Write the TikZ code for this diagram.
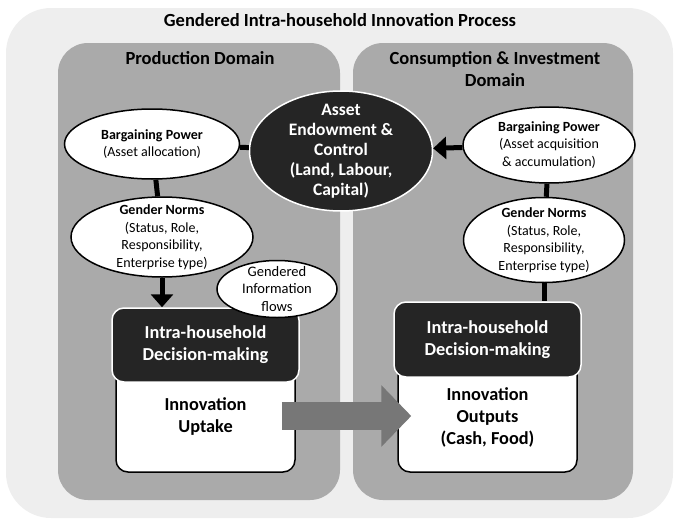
\documentclass[tikz,border=0pt]{standalone}
\usepackage{fontspec}
\setmainfont{Carlito}
\usetikzlibrary{shapes.geometric,arrows.meta}
\definecolor{outergray}{HTML}{EEEEEE}
\definecolor{panelgray}{HTML}{AAAAAA}
\definecolor{darkfill}{HTML}{252525}
\definecolor{blockgray}{HTML}{777777}
\begin{document}
\begin{tikzpicture}[
    x=1pt, y=-1pt,
    panel/.style={rectangle, rounded corners=30pt, fill=panelgray, inner sep=0pt},
    heading/.style={font=\bfseries\fontsize{18.5}{22}\selectfont, align=center},
    oval/.style={ellipse, draw, fill=white, line width=1.5pt, inner xsep=0pt, inner ysep=-9pt, align=center, font=\fontsize{14}{17.5}\selectfont},
    darkoval/.style={oval, fill=darkfill, draw=white, text=white, font=\bfseries\fontsize{17.5}{20}\selectfont},
    decision/.style={rectangle, rounded corners=12pt, fill=darkfill, draw=white, line width=1.5pt, text=white, align=center, font=\bfseries\fontsize{18.3}{22}\selectfont},
    result/.style={rectangle, rounded corners=12pt, fill=white, draw, line width=1.5pt, align=center, font=\bfseries\fontsize{18.3}{22}\selectfont},
    link/.style={line width=5pt},
    arrow/.style={link, -{Triangle[length=13pt, width=22pt]}}
]
\useasboundingbox (0,0) rectangle (680,522);

% Background and domains
\node[rectangle, rounded corners=45pt, fill=outergray, minimum width=667pt, minimum height=510pt] (process) at (339.5,263) {};
\node[font=\bfseries\fontsize{18.5}{22}\selectfont] (title) at (340,20) {Gendered Intra-household Innovation Process};
\node[panel, minimum width=282pt, minimum height=457pt] (production) at (199,271.5) {};
\node[panel, minimum width=280pt, minimum height=457pt] (consumption) at (493,271.5) {};
\node[heading] (prodtitle) at (200,58) {Production Domain};
\node[heading] (constitle) at (495,69) {Consumption \& Investment\\Domain};

% Assets
\node[darkoval, minimum width=183pt, minimum height=120pt] (asset) at (341,151) {Asset\\Endowment \&\\Control\\(Land, Labour,\\Capital)};

% Production side
\node[oval, minimum width=175pt, minimum height=70pt] (lbargain) at (152,144) {\textbf{Bargaining Power}\\(Asset allocation)};
\node[oval, minimum width=182pt, minimum height=80pt] (lnorms) at (162,237) {\textbf{Gender Norms}\\(Status, Role,\\Responsibility,\\Enterprise type)};
\node[result, minimum width=179pt, minimum height=112pt] (uptake) at (205.5,416) {Innovation\\Uptake};
\node[decision, minimum width=187pt, minimum height=74pt] (ldecision) at (205.5,345) {Intra-household\\Decision-making};
\node[oval, minimum width=120pt, minimum height=57pt, font=\fontsize{14.5}{17.5}\selectfont] (infoflows) at (277,289) {Gendered\\Information\\flows};

% Consumption side
\node[oval, minimum width=172pt, minimum height=76pt] (rbargain) at (549,145) {\textbf{Bargaining Power}\\(Asset acquisition\\\& accumulation)};
\node[oval, minimum width=161pt, minimum height=85pt] (rnorms) at (544,240) {\textbf{Gender Norms}\\(Status, Role,\\Responsibility,\\Enterprise type)};
\node[result, minimum width=179pt, minimum height=110pt] (outputs) at (487.5,417) {Innovation\\Outputs\\(Cash, Food)};
\node[decision, minimum width=187pt, minimum height=75pt] (rdecision) at (487.5,339.5) {Intra-household\\Decision-making};

% Connections
\draw[link] (lbargain) -- (asset);
\draw[link] (lbargain) -- (lnorms);
\draw[arrow] (lnorms.south) -- (lnorms.south |- ldecision.north);
\draw[arrow] (rbargain) -- (asset);
\draw[link] (rbargain) -- (rnorms);
\draw[link] (rnorms.south) -- (rnorms.south |- rdecision.north);

% Uptake to outputs
\draw[line width=28pt, blockgray, shorten <=-14pt, shorten >=-14pt, -{Triangle[length=30pt, width=60pt]}] (uptake.east) -- (uptake.east -| outputs.west);

\end{tikzpicture}
\end{document}
